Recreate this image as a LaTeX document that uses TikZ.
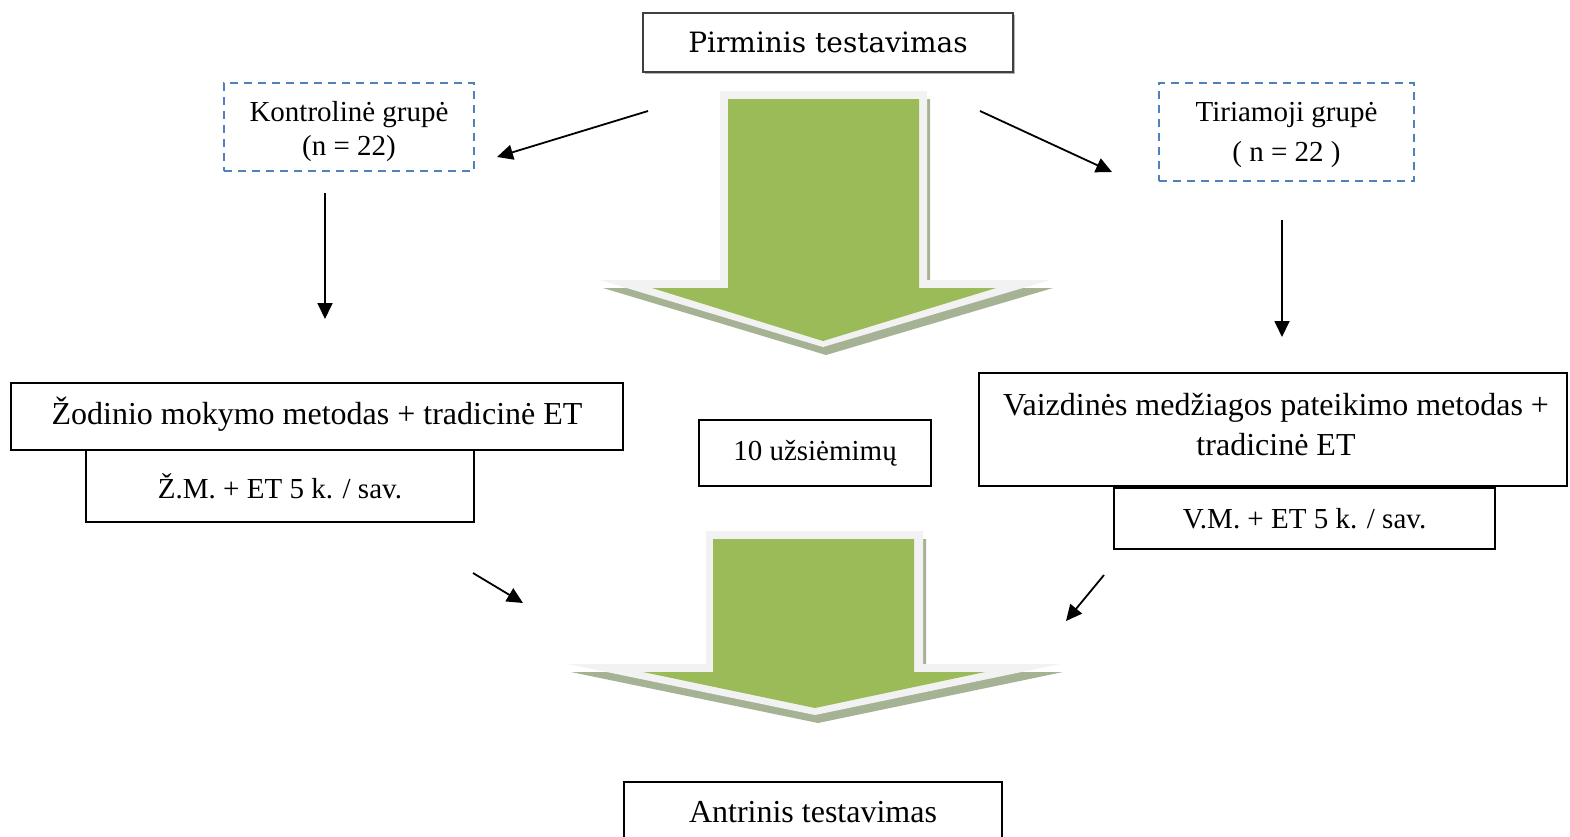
\documentclass[tikz,border=0pt]{standalone}
\usepackage{fontspec}
\setmainfont{Liberation Serif}
\newfontfamily\topfont{DejaVu Serif}
\usetikzlibrary{arrows.meta}
\definecolor{ogreen}{HTML}{9BBB59}
\definecolor{oborder}{HTML}{F2F2F2}
\definecolor{oshadow}{HTML}{A6B294}
\definecolor{dblue}{HTML}{4F81BD}
\tikzset{
  box/.style={draw=black, line width=1pt, inner sep=0pt, align=center, font=\fontsize{16}{20}\selectfont},
  smallbox/.style={box, font=\fontsize{14.5}{17}\selectfont},
  dbox/.style={draw=dblue, line width=1pt, dash pattern=on 4pt off 3pt, inner sep=0pt},
  lbl/.style={inner sep=0pt, align=center},
  arr/.style={draw=black, line width=0.9pt, -{Triangle[length=8pt,width=7.5pt]}},
}
\begin{document}
\begin{tikzpicture}[x=0.5pt,y=-0.5pt]
\clip (0,0) rectangle (1570,836);
\fill[white] (0,0) rectangle (1570,836);

% ---- big arrow 1 ----
\fill[oshadow, shift={(3,8)}] (720,91) -- (927,91) -- (927,280) -- (1050,280) -- (823,347) -- (600,280) -- (720,280) -- cycle;
\fill[oborder] (720,91) -- (927,91) -- (927,280) -- (1050,280) -- (823,347) -- (600,280) -- (720,280) -- cycle;
\fill[ogreen] (728,99) -- (919,99) -- (919,288) -- (996,288) -- (823,341) -- (652,288) -- (728,288) -- cycle;

% ---- big arrow 2 ----
\fill[oshadow, shift={(3,8)}] (706,531) -- (923,531) -- (923,664) -- (1060,664) -- (815,715) -- (568,664) -- (706,664) -- cycle;
\fill[oborder] (706,531) -- (923,531) -- (923,664) -- (1060,664) -- (815,715) -- (568,664) -- (706,664) -- cycle;
\fill[ogreen] (713,539) -- (914,539) -- (914,672) -- (985,672) -- (815,708) -- (643,672) -- (713,672) -- cycle;

% ---- top box ----
\fill[black!30] (645,15) rectangle (1015,74);
\node[draw=black!75, line width=1pt, fill=white, inner sep=0pt, minimum width=185pt, minimum height=29.5pt,
      font=\topfont\fontsize{14}{16}\selectfont] (top) at (828,42.5) {Pirminis testavimas};

% ---- group boxes ----
\node[dbox, minimum width=125pt, minimum height=44pt] (kg) at (349,127) {};
\node[lbl, font=\fontsize{14.5}{17}\selectfont] (kgt) at (349,131.5) {Kontrolinė grupė\\(n = 22)};
\node[dbox, minimum width=127.5pt, minimum height=49pt] (tg) at (1286.5,132) {};
\node[lbl, font=\fontsize{14.5}{20}\selectfont] (tgt) at (1286.5,134.5) {Tiriamoji grupė\\( n = 22 )};

% ---- method boxes ----
\node[box, minimum width=306pt, minimum height=33.5pt] (zm) at (317,416.5) {};
\node[lbl, font=\fontsize{16}{20}\selectfont] (zmt) at (317,414.5) {Žodinio mokymo metodas + tradicinė ET};
\node[smallbox, minimum width=194pt, minimum height=36pt] (zm2) at (280,486)
  {Ž.M. + ET 5 k. / sav.};
\node[smallbox, minimum width=116pt, minimum height=33pt] (uz) at (815,453)
  {10 užsiėmimų};
\node[box, minimum width=294pt, minimum height=56.5pt] (vm) at (1273,429.5) {};
\node[lbl, font=\fontsize{16}{20}\selectfont] (vmt) at (1276,424.5) {Vaizdinės medžiagos pateikimo metodas +\\tradicinė ET};
\node[smallbox, minimum width=190.5pt, minimum height=30.5pt] (vm2) at (1304.5,518.5)
  {V.M. + ET 5 k. / sav.};
\node[box, minimum width=189pt, minimum height=30pt] (an) at (813,812)
  {Antrinis testavimas};

% ---- connector end points ----
\coordinate (a1s) at (648,111);
\coordinate (a1e) at (497,157);
\coordinate (a2s) at (980,111);
\coordinate (a2e) at (1112,172);
\coordinate (a3s) at (325,193);
\coordinate (a3e) at (325,319);
\coordinate (a4s) at (1282,220);
\coordinate (a4e) at (1282,337);
\coordinate (a5s) at (473,573);
\coordinate (a5e) at (523,603);
\coordinate (a6s) at (1104,575);
\coordinate (a6e) at (1066,621);

\draw[arr] (a1s) -- (a1e);
\draw[arr] (a2s) -- (a2e);
\draw[arr] (a3s) -- (a3e);
\draw[arr] (a4s) -- (a4e);
\draw[arr] (a5s) -- (a5e);
\draw[arr] (a6s) -- (a6e);
\end{tikzpicture}
\end{document}
